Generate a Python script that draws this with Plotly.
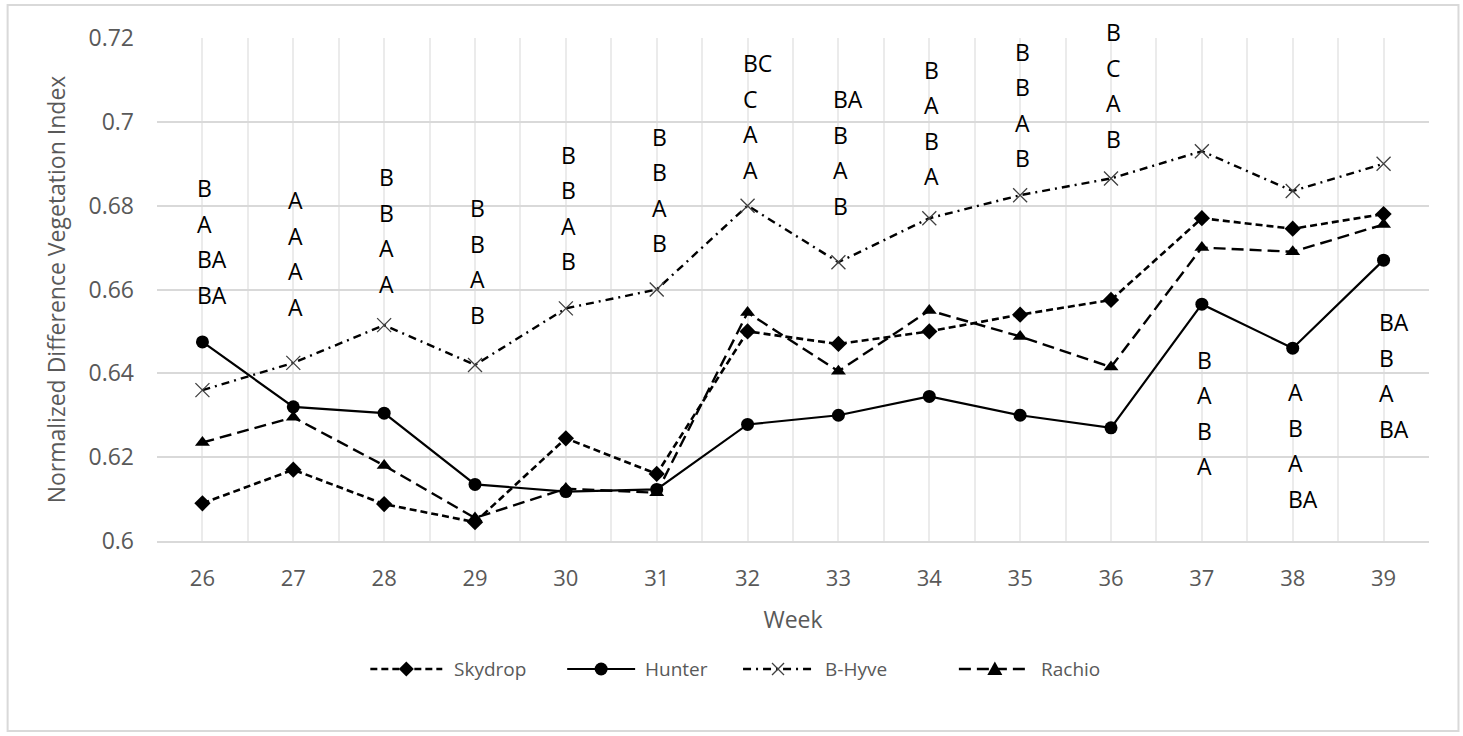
import plotly.graph_objects as go

# Weekly NDVI means per irrigation controller
weeks = list(range(26, 40))
skydrop = [0.609, 0.617, 0.6088, 0.6045, 0.6245, 0.616, 0.650, 0.647, 0.650, 0.654, 0.6575, 0.677, 0.6745, 0.678]
hunter = [0.6475, 0.632, 0.6305, 0.6135, 0.6118, 0.6123, 0.6278, 0.630, 0.6345, 0.630, 0.627, 0.6565, 0.646, 0.667]
bhyve = [0.636, 0.6425, 0.6515, 0.642, 0.6555, 0.660, 0.680, 0.6665, 0.677, 0.6825, 0.6865, 0.693, 0.6835, 0.690]
rachio = [0.6235, 0.6295, 0.618, 0.6055, 0.6125, 0.6115, 0.6545, 0.6405, 0.655, 0.6488, 0.6415, 0.670, 0.669, 0.6755]

# Mean-separation letters for each week (top to bottom)
letters = [
    ["B", "A", "BA", "BA"],
    ["A", "A", "A", "A"],
    ["B", "B", "A", "A"],
    ["B", "B", "A", "B"],
    ["B", "B", "A", "B"],
    ["B", "B", "A", "B"],
    ["BC", "C", "A", "A"],
    ["BA", "B", "A", "B"],
    ["B", "A", "B", "A"],
    ["B", "B", "A", "B"],
    ["B", "C", "A", "B"],
    ["B", "A", "B", "A"],
    ["A", "B", "A", "BA"],
    ["BA", "B", "A", "BA"],
]
# vertical anchor of the lowest letter in each stack (axis units)
label_base = [0.6588, 0.6559, 0.6614, 0.6540, 0.6667, 0.6710, 0.6886,
              0.6800, 0.6870, 0.6913, 0.6960, 0.6178, 0.6101, 0.6268]
LINE_STEP = 35.5  # px between stacked letters

W, H = 1463, 736
PLOT_L, PLOT_R, PLOT_T, PLOT_B = 156.5, 1429.5, 38, 541


def px_x(px):
    return (px - PLOT_L) / (PLOT_R - PLOT_L)


def px_y(py):
    return (PLOT_B - py) / (PLOT_B - PLOT_T)


series = [
    ("Skydrop", skydrop, dict(dash="7px,4px", width=2.6), dict(symbol="diamond", size=12.5, color="black")),
    ("Hunter", hunter, dict(dash="solid", width=2.2), dict(symbol="circle", size=13, color="black")),
    ("B-Hyve", bhyve, dict(dash="8px,5px,2px,5px", width=2.4),
     dict(symbol="x-thin-open", size=14, color="#404040", line=dict(color="#404040", width=1.3))),
    ("Rachio", rachio, dict(dash="12px,6px", width=2.4), dict(symbol="triangle-up", size=13, color="black")),
]

# legend glyphs drawn as pixel-sized shapes around a centre point
legend_glyphs = {
    "Skydrop": [dict(type="path", path="M0,7.5 L7.5,0 L0,-7.5 L-7.5,0 Z", fillcolor="black", line=dict(width=0))],
    "Hunter": [dict(type="circle", x0=-6.5, x1=6.5, y0=-6.5, y1=6.5, fillcolor="black", line=dict(width=0))],
    "B-Hyve": [dict(type="path", path="M-6,-6 L6,6", line=dict(color="#404040", width=1.3)),
               dict(type="path", path="M-6,6 L6,-6", line=dict(color="#404040", width=1.3))],
    "Rachio": [dict(type="path", path="M-7.5,-6 L7.5,-6 L0,7.5 Z", fillcolor="black", line=dict(width=0))],
}
# legend row: (sample start, sample end, label start) in figure pixels
legend_slots = [(370, 442, 452), (567, 635, 643), (743, 813, 823), (959, 1031, 1039)]
LEGEND_Y = 669

fig = go.Figure()
for name, vals, line, marker in series:
    fig.add_trace(go.Scatter(
        x=weeks, y=vals, name=name, mode="lines+markers",
        line=dict(color="black", **line), marker=marker, cliponaxis=False,
        showlegend=False,
    ))

shapes = [dict(
    type="rect", xref="paper", yref="paper",
    x0=px_x(7), x1=px_x(1459), y0=px_y(731), y1=px_y(5),
    line=dict(color="#d9d9d9", width=2), layer="below",
)]
annotations = []

# hand-built legend: dashed sample line, centred glyph, label
for (name, vals, line, marker), (x0, x1, xt) in zip(series, legend_slots):
    shapes.append(dict(
        type="line", xref="paper", yref="paper",
        x0=px_x(x0), x1=px_x(x1), y0=px_y(LEGEND_Y), y1=px_y(LEGEND_Y),
        line=dict(color="black", **line),
    ))
    for g in legend_glyphs[name]:
        shapes.append(dict(
            xref="paper", yref="paper", xsizemode="pixel", ysizemode="pixel",
            xanchor=px_x((x0 + x1) / 2), yanchor=px_y(LEGEND_Y), **g,
        ))
    annotations.append(dict(
        x=px_x(xt), y=px_y(LEGEND_Y), xref="paper", yref="paper", text=name, showarrow=False,
        xanchor="left", yanchor="middle",
        font=dict(family="Open Sans", size=19, color="#595959"),
    ))

for wk, stack, base in zip(weeks, letters, label_base):
    n = len(stack)
    for i, txt in enumerate(stack):
        annotations.append(dict(
            x=wk, y=base, xref="x", yref="y", text=txt, showarrow=False,
            xanchor="left", yanchor="middle", xshift=-7, yshift=LINE_STEP * (n - 1 - i),
            font=dict(family="Open Sans", size=23, color="black"),
        ))

fig.update_layout(
    width=W, height=H,
    margin=dict(l=PLOT_L, r=W - PLOT_R, t=PLOT_T, b=H - PLOT_B, autoexpand=False),
    paper_bgcolor="white", plot_bgcolor="white",
    font=dict(family="Open Sans", color="#595959"),
    showlegend=False,
    annotations=annotations,
    shapes=shapes,
    xaxis=dict(
        range=[25.5, 39.5], tickmode="array", tickvals=weeks,
        showgrid=True, gridcolor="#ebebeb", gridwidth=1.5,
        minor=dict(tick0=25.5, dtick=1, showgrid=True, gridcolor="#ebebeb", gridwidth=1.5),
        showline=True, linecolor="#d9d9d9", linewidth=2, zeroline=False,
        ticks="", tickfont=dict(size=22, color="#595959"), ticklabelstandoff=17,
        title=dict(text="Week", font=dict(size=23, color="#595959"), standoff=20),
    ),
    yaxis=dict(
        range=[0.6, 0.72], dtick=0.02, tick0=0.6,
        showgrid=True, gridcolor="#d9d9d9", gridwidth=1.5,
        showline=False, zeroline=False,
        ticks="", tickfont=dict(size=23, color="#595959"), ticklabelstandoff=22,
        title=dict(text="Normalized Difference Vegetation Index", font=dict(size=23, color="#595959"), standoff=16),
    ),
)

fig.write_html("out.html")
